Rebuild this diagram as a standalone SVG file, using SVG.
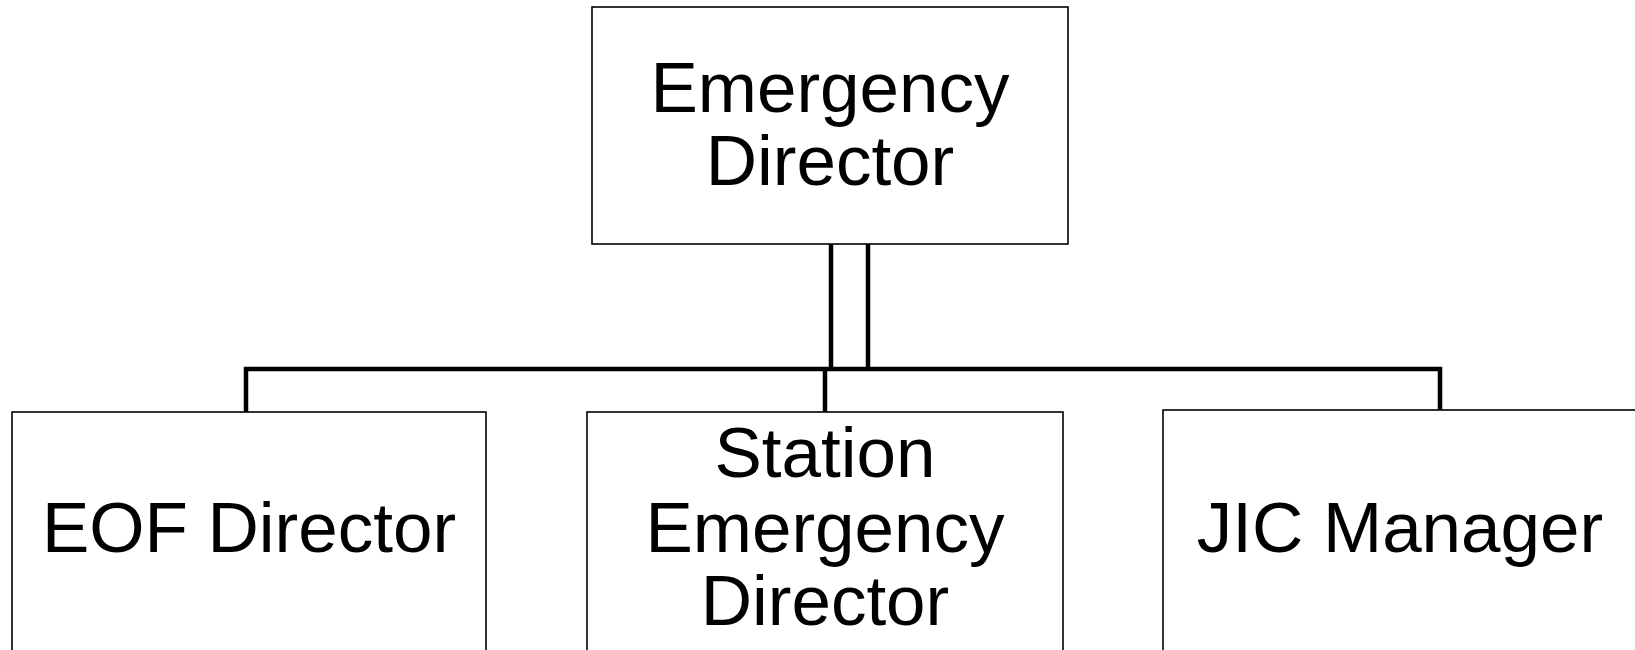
<svg xmlns="http://www.w3.org/2000/svg" width="1635" height="650" viewBox="0 0 1635 650">
<style>
.box{fill:#fff;stroke:#000;stroke-width:1.6}
.lbl{font-family:"Liberation Sans",Arial,sans-serif;font-size:71px;fill:#000;text-anchor:middle}
.conn{fill:none;stroke:#000;stroke-width:4.5;stroke-linejoin:miter}
</style>
<rect width="1635" height="650" fill="#fff"/>
<g id="connectors">
<line class="conn" x1="831" y1="244" x2="831" y2="369"/>
<line class="conn" x1="868" y1="244" x2="868" y2="369"/>
<polyline class="conn" points="246,412 246,369 1440,369 1440,410"/>
<line class="conn" x1="825" y1="369" x2="825" y2="412" stroke-width="3.5"/>
</g>
<g id="emergency-director">
<rect class="box" x="592" y="7" width="476" height="237"/>
<text class="lbl" x="830" y="112">Emergency</text>
<text class="lbl" x="830" y="185">Director</text>
</g>
<g id="eof-director">
<rect class="box" x="12" y="412" width="474" height="245"/>
<text class="lbl" x="249" y="552">EOF Director</text>
</g>
<g id="station-emergency-director">
<rect class="box" x="587" y="412" width="476" height="245"/>
<text class="lbl" x="825" y="477">Station</text>
<text class="lbl" x="825" y="552">Emergency</text>
<text class="lbl" x="825" y="625">Director</text>
</g>
<g id="jic-manager">
<rect class="box" x="1163" y="410" width="480" height="247"/>
<text class="lbl" x="1400" y="552">JIC Manager</text>
</g>
</svg>
